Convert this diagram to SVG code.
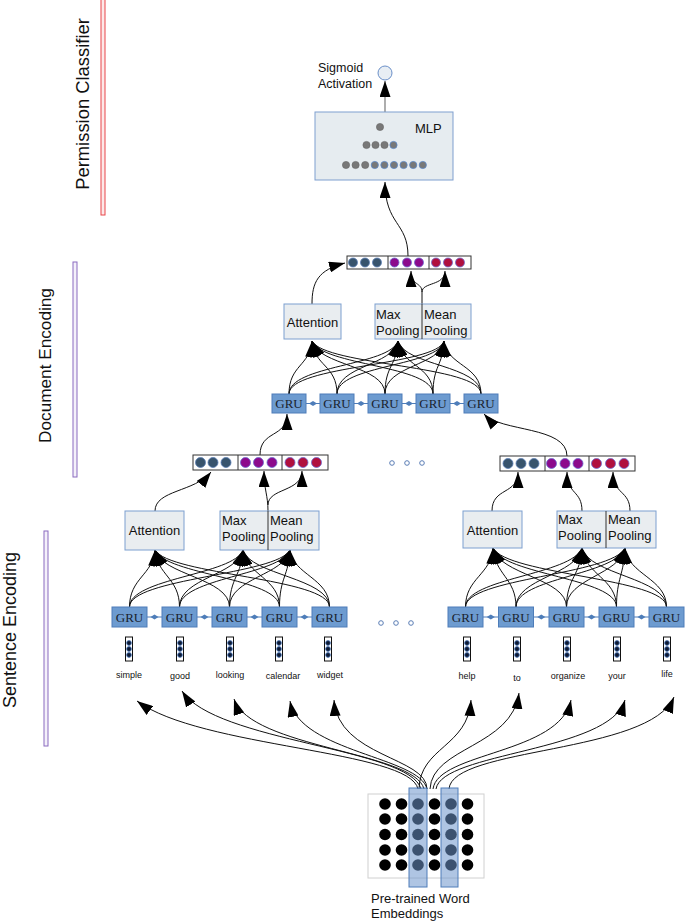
<svg xmlns="http://www.w3.org/2000/svg" width="685" height="923" viewBox="0 0 685 923">
<defs>
<style>
.lbl{font-family:"Liberation Sans",Arial,sans-serif;fill:#111}
.gru rect{fill:#6d9bd0;stroke:#4e7db9;stroke-width:1}
.gru text{font-family:"Liberation Serif","Times New Roman",serif;font-size:13px;fill:#1a1f2e;text-anchor:middle}
.box{fill:#e9edf0;stroke:#7c9fd0;stroke-width:1}
.btxt{font-family:"Liberation Sans",Arial,sans-serif;font-size:13px;fill:#111}
.vec{fill:#fff;stroke:#333;stroke-width:1}
.c1{fill:#38546d;stroke:#5a7db5;stroke-width:.8}
.c2{fill:#8c0a8c;stroke:#6a6ad0;stroke-width:.8}
.c3{fill:#b0103e;stroke:#6a6ad0;stroke-width:.8}
.wv{fill:#fff;stroke:#111;stroke-width:1}
.wd{fill:#0e1a33;stroke:#4a7ac0;stroke-width:.8}
.word{font-family:"Liberation Sans",Arial,sans-serif;font-size:9px;fill:#111;text-anchor:middle}
.conn path{fill:none;stroke:#111;stroke-width:1;marker-end:url(#ah)}
.link line{stroke:#4e7db9;stroke-width:1}
.link polygon{fill:#4e7db9}
.ell circle{fill:#fff;stroke:#5a7db5;stroke-width:1}
.md{fill:#787878;stroke:#666;stroke-width:.6}
.mb{fill:#787878;stroke:#5b87c6;stroke-width:.8}
.emb{fill:#000}
.hl{fill:#6e96cc;fill-opacity:.55;stroke:#4e7db9;stroke-width:1}
</style>
<marker id="ah" viewBox="0 0 16 11" refX="16" refY="5.5" markerWidth="16" markerHeight="11" markerUnits="userSpaceOnUse" orient="auto">
<path d="M0,0 L16,5.5 L0,11 z" fill="#000"/>
</marker>
</defs>
<rect width="685" height="923" fill="#fff"/>

<!-- side labels -->
<g id="label-permission">
<rect x="101" y="-1" width="4" height="216" fill="#fde8e8" stroke="#e8474a" stroke-width="1"/>
<text class="lbl" font-size="18.4" text-anchor="middle" transform="translate(89.3,104) rotate(-90)">Permission Classifier</text>
</g>
<g id="label-document">
<rect x="73" y="262" width="4" height="215" fill="#f4f0fa" stroke="#8a6bbf" stroke-width="1"/>
<text class="lbl" font-size="17.2" text-anchor="middle" transform="translate(50.5,365.5) rotate(-90)">Document Encoding</text>
</g>
<g id="label-sentence">
<rect x="44" y="531" width="4" height="215" fill="#f4f0fa" stroke="#8a6bbf" stroke-width="1"/>
<text class="lbl" font-size="18" text-anchor="middle" transform="translate(15.5,630) rotate(-90)">Sentence Encoding</text>
</g>

<!-- connectors -->
<g id="connectors">
<path d="M385 112 L385 81" fill="none" stroke="#777" stroke-width="1.2" marker-end="url(#ah)"/>
<g class="conn">
<path d="M408 256 C408 222, 385 225, 385 182"/>
<path d="M312 304 C312 282, 318 270, 345 263"/>
<path d="M422 304 L422 292 C422 282, 411 286, 411 271"/>
<path d="M422 292 C422 282, 445 286, 445 271"/>
<path d="M289 394 C289 365, 310 366, 312 341"/>
<path d="M289 394 C289 365, 390 366, 398 341"/>
<path d="M289 394 C289 365, 437 366, 444 341"/>
<path d="M337 394 C337 365, 314 366, 312 341"/>
<path d="M337 394 C337 365, 393 366, 398 341"/>
<path d="M337 394 C337 365, 440 366, 444 341"/>
<path d="M385 394 C385 365, 318 366, 312 341"/>
<path d="M385 394 C385 365, 397 366, 398 341"/>
<path d="M385 394 C385 365, 441 366, 444 341"/>
<path d="M433 394 C433 365, 322 366, 312 341"/>
<path d="M433 394 C433 365, 401 366, 398 341"/>
<path d="M433 394 C433 365, 443 366, 444 341"/>
<path d="M481 394 C481 365, 325 366, 312 341"/>
<path d="M481 394 C481 365, 405 366, 398 341"/>
<path d="M481 394 C481 365, 447 366, 444 341"/>
<path d="M260 455 C260 430, 287 438, 287 414"/>
<path d="M567 456 C567 426, 500 432, 484 414"/>
<path d="M155 511 C155 490, 195 492, 211 472"/>
<path d="M268 511 C268 495, 264 490, 264 471"/>
<path d="M268 505 C268 488, 302 492, 302 471"/>
<path d="M492 511 C492 487, 518 495, 518 472"/>
<path d="M582 511 C582 490, 567 495, 567 472"/>
<path d="M630 511 C630 490, 613 495, 613 472"/>
<path d="M129.5 607 C129.5 578, 153 575, 155 550"/>
<path d="M129.5 607 C129.5 578, 234 575, 243 550"/>
<path d="M129.5 607 C129.5 578, 277 575, 290 550"/>
<path d="M179.5 607 C179.5 578, 157 575, 155 550"/>
<path d="M179.5 607 C179.5 578, 238 575, 243 550"/>
<path d="M179.5 607 C179.5 578, 281 575, 290 550"/>
<path d="M229.5 607 C229.5 578, 161 575, 155 550"/>
<path d="M229.5 607 C229.5 578, 242 575, 243 550"/>
<path d="M229.5 607 C229.5 578, 285 575, 290 550"/>
<path d="M279.5 607 C279.5 578, 165 575, 155 550"/>
<path d="M279.5 607 C279.5 578, 246 575, 243 550"/>
<path d="M279.5 607 C279.5 578, 289 575, 290 550"/>
<path d="M329.5 607 C329.5 578, 169 575, 155 550"/>
<path d="M329.5 607 C329.5 578, 250 575, 243 550"/>
<path d="M329.5 607 C329.5 578, 293 575, 290 550"/>
<path d="M465.5 607 C465.5 578, 491 575, 493 548"/>
<path d="M465.5 607 C465.5 578, 572 575, 582 548"/>
<path d="M465.5 607 C465.5 578, 612 575, 625 548"/>
<path d="M516 607 C516 578, 495 575, 493 548"/>
<path d="M516 607 C516 578, 577 575, 582 548"/>
<path d="M516 607 C516 578, 616 575, 625 548"/>
<path d="M566.5 607 C566.5 578, 499 575, 493 548"/>
<path d="M566.5 607 C566.5 578, 581 575, 582 548"/>
<path d="M566.5 607 C566.5 578, 620 575, 625 548"/>
<path d="M616.5 607 C616.5 578, 503 575, 493 548"/>
<path d="M616.5 607 C616.5 578, 585 575, 582 548"/>
<path d="M616.5 607 C616.5 578, 624 575, 625 548"/>
<path d="M666.5 607 C666.5 578, 507 575, 493 548"/>
<path d="M666.5 607 C666.5 578, 589 575, 582 548"/>
<path d="M666.5 607 C666.5 578, 628 575, 625 548"/>
<path d="M418 789 C410 750, 200 748, 137 701"/>
<path d="M421 789 C410 748, 215 742, 182 691"/>
<path d="M424 789 C415 752, 250 748, 234 699"/>
<path d="M427 789 C420 757, 300 752, 290 701"/>
<path d="M427 789 C427 757, 338 757, 334 700"/>
<path d="M419 789 C420 747, 468 747, 471 700"/>
<path d="M430 789 C432 747, 512 747, 519 693"/>
<path d="M433 789 C438 752, 560 754, 571 700"/>
<path d="M436 789 C442 752, 610 752, 625 700"/>
<path d="M449 789 C452 747, 650 754, 674 697"/>
</g>
<g class="link">
<line x1="147" y1="617" x2="162" y2="617"/><polygon points="150.5,617 154.5,614.5 158.5,617 154.5,619.5"/>
<line x1="197" y1="617" x2="212" y2="617"/><polygon points="200.5,617 204.5,614.5 208.5,617 204.5,619.5"/>
<line x1="247" y1="617" x2="262" y2="617"/><polygon points="250.5,617 254.5,614.5 258.5,617 254.5,619.5"/>
<line x1="297" y1="617" x2="312" y2="617"/><polygon points="300.5,617 304.5,614.5 308.5,617 304.5,619.5"/>
<line x1="483" y1="617" x2="498.5" y2="617"/><polygon points="486.8,617 490.8,614.5 494.8,617 490.8,619.5"/>
<line x1="533.5" y1="617" x2="549" y2="617"/><polygon points="537.3,617 541.3,614.5 545.3,617 541.3,619.5"/>
<line x1="584" y1="617" x2="599" y2="617"/><polygon points="587.5,617 591.5,614.5 595.5,617 591.5,619.5"/>
<line x1="634" y1="617" x2="649" y2="617"/><polygon points="637.5,617 641.5,614.5 645.5,617 641.5,619.5"/>
<line x1="306" y1="403.5" x2="320" y2="403.5"/><polygon points="309,403.5 313,401 317,403.5 313,406"/>
<line x1="354" y1="403.5" x2="368" y2="403.5"/><polygon points="357,403.5 361,401 365,403.5 361,406"/>
<line x1="402" y1="403.5" x2="416" y2="403.5"/><polygon points="405,403.5 409,401 413,403.5 409,406"/>
<line x1="450" y1="403.5" x2="464" y2="403.5"/><polygon points="453,403.5 457,401 461,403.5 457,406"/>
</g>
</g>

<!-- sigmoid -->
<g id="sigmoid">
<circle cx="385" cy="73" r="7" fill="#e8eef4" stroke="#6a8fc8" stroke-width="1"/>
<text class="lbl" font-size="12.5" x="318" y="72">Sigmoid</text>
<text class="lbl" font-size="12.5" x="318" y="88">Activation</text>
</g>

<!-- MLP -->
<g id="mlp">
<rect x="315" y="112" width="138" height="68" fill="#e6ecf0" stroke="#7f9fcf" stroke-width="1"/>
<text class="lbl" font-size="13" x="415" y="133">MLP</text>
<circle class="md" cx="380" cy="127" r="3.6"/>
<circle class="md" cx="366.5" cy="145" r="3.6"/>
<circle class="md" cx="375.5" cy="145" r="3.6"/>
<circle class="md" cx="384.5" cy="145" r="3.6"/>
<circle class="mb" cx="393.5" cy="145" r="3.6"/>
<circle class="md" cx="346" cy="165" r="3.6"/>
<circle class="md" cx="355.6" cy="165" r="3.6"/>
<circle class="md" cx="365.2" cy="165" r="3.6"/>
<circle class="mb" cx="374.8" cy="165" r="3.6"/>
<circle class="mb" cx="384.4" cy="165" r="3.6"/>
<circle class="mb" cx="394" cy="165" r="3.6"/>
<circle class="mb" cx="403.6" cy="165" r="3.6"/>
<circle class="mb" cx="413.2" cy="165" r="3.6"/>
<circle class="mb" cx="422.8" cy="165" r="3.6"/>
</g>

<!-- document concat -->
<g id="doc-concat">
<rect class="vec" x="347" y="256" width="124" height="13"/>
<line x1="388" y1="256" x2="388" y2="269" stroke="#333"/>
<line x1="429" y1="256" x2="429" y2="269" stroke="#333"/>
<circle class="c1" cx="353" cy="262.5" r="4.5"/><circle class="c1" cx="365" cy="262.5" r="4.5"/><circle class="c1" cx="377" cy="262.5" r="4.5"/>
<circle class="c2" cx="394.5" cy="262.5" r="4.5"/><circle class="c2" cx="407" cy="262.5" r="4.5"/><circle class="c2" cx="419" cy="262.5" r="4.5"/>
<circle class="c3" cx="436" cy="262.5" r="4.5"/><circle class="c3" cx="448" cy="262.5" r="4.5"/><circle class="c3" cx="460" cy="262.5" r="4.5"/>
</g>

<g id="doc-attention">
<rect class="box" x="284" y="304" width="57" height="35"/>
<text class="btxt" x="312.5" y="327" text-anchor="middle">Attention</text>
</g>
<g id="doc-pooling">
<rect class="box" x="375" y="304" width="96" height="35"/>
<line x1="422" y1="304" x2="422" y2="339" stroke="#333"/>
<text class="btxt" x="376" y="319">Max</text>
<text class="btxt" x="376" y="335">Pooling</text>
<text class="btxt" x="424" y="319">Mean</text>
<text class="btxt" x="424" y="335">Pooling</text>
</g>

<g id="doc-gru-1" class="gru"><rect x="272" y="394" width="34" height="19"/><text x="289" y="408">GRU</text></g>
<g id="doc-gru-2" class="gru"><rect x="320" y="394" width="34" height="19"/><text x="337" y="408">GRU</text></g>
<g id="doc-gru-3" class="gru"><rect x="368" y="394" width="34" height="19"/><text x="385" y="408">GRU</text></g>
<g id="doc-gru-4" class="gru"><rect x="416" y="394" width="34" height="19"/><text x="433" y="408">GRU</text></g>
<g id="doc-gru-5" class="gru"><rect x="464" y="394" width="34" height="19"/><text x="481" y="408">GRU</text></g>

<g id="ellipsis-doc" class="ell">
<circle cx="392" cy="463" r="2.3"/><circle cx="407" cy="463" r="2.3"/><circle cx="422" cy="463" r="2.3"/>
</g>
<g id="ellipsis-sent" class="ell">
<circle cx="381" cy="623" r="2.3"/><circle cx="396" cy="623" r="2.3"/><circle cx="411" cy="623" r="2.3"/>
</g>

<g id="sent1-concat">
<rect class="vec" x="193" y="455" width="135" height="15"/>
<line x1="238" y1="455" x2="238" y2="470" stroke="#333"/>
<line x1="282" y1="455" x2="282" y2="470" stroke="#333"/>
<circle class="c1" cx="200.5" cy="462.5" r="5"/><circle class="c1" cx="213" cy="462.5" r="5"/><circle class="c1" cx="226" cy="462.5" r="5"/>
<circle class="c2" cx="245.5" cy="462.5" r="5"/><circle class="c2" cx="258.5" cy="462.5" r="5"/><circle class="c2" cx="272" cy="462.5" r="5"/>
<circle class="c3" cx="290" cy="462.5" r="5"/><circle class="c3" cx="303" cy="462.5" r="5"/><circle class="c3" cx="316.5" cy="462.5" r="5"/>
</g>
<g id="sent1-attention">
<rect class="box" x="125" y="511" width="59" height="39"/>
<text class="btxt" x="154.5" y="535" text-anchor="middle">Attention</text>
</g>
<g id="sent1-pooling">
<rect class="box" x="220" y="511" width="99" height="39"/>
<line x1="268" y1="511" x2="268" y2="550" stroke="#333"/>
<text class="btxt" x="222" y="525">Max</text>
<text class="btxt" x="222" y="541">Pooling</text>
<text class="btxt" x="270" y="525">Mean</text>
<text class="btxt" x="270" y="541">Pooling</text>
</g>

<g id="sent2-concat">
<rect class="vec" x="500" y="456" width="135" height="15"/>
<line x1="545" y1="456" x2="545" y2="471" stroke="#333"/>
<line x1="589" y1="456" x2="589" y2="471" stroke="#333"/>
<circle class="c1" cx="508" cy="463.5" r="5"/><circle class="c1" cx="521" cy="463.5" r="5"/><circle class="c1" cx="534" cy="463.5" r="5"/>
<circle class="c2" cx="551.5" cy="463.5" r="5"/><circle class="c2" cx="565" cy="463.5" r="5"/><circle class="c2" cx="578" cy="463.5" r="5"/>
<circle class="c3" cx="596.5" cy="463.5" r="5"/><circle class="c3" cx="610.5" cy="463.5" r="5"/><circle class="c3" cx="624" cy="463.5" r="5"/>
</g>
<g id="sent2-attention">
<rect class="box" x="463" y="511" width="59" height="37"/>
<text class="btxt" x="492.5" y="535" text-anchor="middle">Attention</text>
</g>
<g id="sent2-pooling">
<rect class="box" x="557" y="511" width="99" height="37"/>
<line x1="606" y1="511" x2="606" y2="548" stroke="#333"/>
<text class="btxt" x="558" y="524">Max</text>
<text class="btxt" x="558" y="540">Pooling</text>
<text class="btxt" x="608" y="524">Mean</text>
<text class="btxt" x="608" y="540">Pooling</text>
</g>

<g id="sent1-gru-1" class="gru"><rect x="112" y="607" width="35" height="20"/><text x="129.5" y="621.5">GRU</text></g>
<g id="sent1-gru-2" class="gru"><rect x="162" y="607" width="35" height="20"/><text x="179.5" y="621.5">GRU</text></g>
<g id="sent1-gru-3" class="gru"><rect x="212" y="607" width="35" height="20"/><text x="229.5" y="621.5">GRU</text></g>
<g id="sent1-gru-4" class="gru"><rect x="262" y="607" width="35" height="20"/><text x="279.5" y="621.5">GRU</text></g>
<g id="sent1-gru-5" class="gru"><rect x="312" y="607" width="35" height="20"/><text x="329.5" y="621.5">GRU</text></g>
<g id="sent2-gru-1" class="gru"><rect x="448" y="607" width="35" height="20"/><text x="465.5" y="621.5">GRU</text></g>
<g id="sent2-gru-2" class="gru"><rect x="498.5" y="607" width="35" height="20"/><text x="516" y="621.5">GRU</text></g>
<g id="sent2-gru-3" class="gru"><rect x="549" y="607" width="35" height="20"/><text x="566.5" y="621.5">GRU</text></g>
<g id="sent2-gru-4" class="gru"><rect x="599" y="607" width="35" height="20"/><text x="616.5" y="621.5">GRU</text></g>
<g id="sent2-gru-5" class="gru"><rect x="649" y="607" width="35" height="20"/><text x="666.5" y="621.5">GRU</text></g>

<g id="w-simple"><rect class="wv" x="125.5" y="637" width="7" height="24"/><circle class="wd" cx="129" cy="643" r="2.4"/><circle class="wd" cx="129" cy="649" r="2.4"/><circle class="wd" cx="129" cy="655" r="2.4"/><text class="word" x="129" y="678">simple</text></g>
<g id="w-good"><rect class="wv" x="176.5" y="637" width="7" height="24"/><circle class="wd" cx="180" cy="643" r="2.4"/><circle class="wd" cx="180" cy="649" r="2.4"/><circle class="wd" cx="180" cy="655" r="2.4"/><text class="word" x="180" y="679">good</text></g>
<g id="w-looking"><rect class="wv" x="226.5" y="637" width="7" height="24"/><circle class="wd" cx="230" cy="643" r="2.4"/><circle class="wd" cx="230" cy="649" r="2.4"/><circle class="wd" cx="230" cy="655" r="2.4"/><text class="word" x="230" y="678">looking</text></g>
<g id="w-calendar"><rect class="wv" x="275.5" y="637" width="7" height="24"/><circle class="wd" cx="279" cy="643" r="2.4"/><circle class="wd" cx="279" cy="649" r="2.4"/><circle class="wd" cx="279" cy="655" r="2.4"/><text class="word" x="283" y="679">calendar</text></g>
<g id="w-widget"><rect class="wv" x="324.5" y="637" width="7" height="24"/><circle class="wd" cx="328" cy="643" r="2.4"/><circle class="wd" cx="328" cy="649" r="2.4"/><circle class="wd" cx="328" cy="655" r="2.4"/><text class="word" x="330" y="678">widget</text></g>
<g id="w-help"><rect class="wv" x="463.5" y="637" width="7" height="24"/><circle class="wd" cx="467" cy="643" r="2.4"/><circle class="wd" cx="467" cy="649" r="2.4"/><circle class="wd" cx="467" cy="655" r="2.4"/><text class="word" x="467" y="679">help</text></g>
<g id="w-to"><rect class="wv" x="513.5" y="637" width="7" height="24"/><circle class="wd" cx="517" cy="643" r="2.4"/><circle class="wd" cx="517" cy="649" r="2.4"/><circle class="wd" cx="517" cy="655" r="2.4"/><text class="word" x="517" y="681">to</text></g>
<g id="w-organize"><rect class="wv" x="563.5" y="637" width="7" height="24"/><circle class="wd" cx="567" cy="643" r="2.4"/><circle class="wd" cx="567" cy="649" r="2.4"/><circle class="wd" cx="567" cy="655" r="2.4"/><text class="word" x="568" y="679">organize</text></g>
<g id="w-your"><rect class="wv" x="613.5" y="637" width="7" height="24"/><circle class="wd" cx="617" cy="643" r="2.4"/><circle class="wd" cx="617" cy="649" r="2.4"/><circle class="wd" cx="617" cy="655" r="2.4"/><text class="word" x="617" y="679">your</text></g>
<g id="w-life"><rect class="wv" x="663.5" y="637" width="7" height="24"/><circle class="wd" cx="667" cy="643" r="2.4"/><circle class="wd" cx="667" cy="649" r="2.4"/><circle class="wd" cx="667" cy="655" r="2.4"/><text class="word" x="667" y="677">life</text></g>

<g id="embeddings">
<rect x="368" y="794" width="116" height="84" fill="#fff" stroke="#d0d0d0" stroke-width="1"/>
<g class="emb">
<circle cx="385" cy="804" r="5.8"/><circle cx="401.5" cy="804" r="5.8"/><circle cx="418" cy="804" r="5.8"/><circle cx="434.5" cy="804" r="5.8"/><circle cx="451" cy="804" r="5.8"/><circle cx="467.5" cy="804" r="5.8"/>
<circle cx="385" cy="819" r="5.8"/><circle cx="401.5" cy="819" r="5.8"/><circle cx="418" cy="819" r="5.8"/><circle cx="434.5" cy="819" r="5.8"/><circle cx="451" cy="819" r="5.8"/><circle cx="467.5" cy="819" r="5.8"/>
<circle cx="385" cy="834.5" r="5.8"/><circle cx="401.5" cy="834.5" r="5.8"/><circle cx="418" cy="834.5" r="5.8"/><circle cx="434.5" cy="834.5" r="5.8"/><circle cx="451" cy="834.5" r="5.8"/><circle cx="467.5" cy="834.5" r="5.8"/>
<circle cx="385" cy="850" r="5.8"/><circle cx="401.5" cy="850" r="5.8"/><circle cx="418" cy="850" r="5.8"/><circle cx="434.5" cy="850" r="5.8"/><circle cx="451" cy="850" r="5.8"/><circle cx="467.5" cy="850" r="5.8"/>
<circle cx="385" cy="865" r="5.8"/><circle cx="401.5" cy="865" r="5.8"/><circle cx="418" cy="865" r="5.8"/><circle cx="434.5" cy="865" r="5.8"/><circle cx="451" cy="865" r="5.8"/><circle cx="467.5" cy="865" r="5.8"/>
</g>
<rect class="hl" x="409" y="788" width="18" height="99"/>
<rect class="hl" x="441" y="788" width="17" height="99"/>
<text class="lbl" font-size="13" x="371" y="903">Pre-trained Word</text>
<text class="lbl" font-size="13" x="371" y="918">Embeddings</text>
</g>
</svg>
